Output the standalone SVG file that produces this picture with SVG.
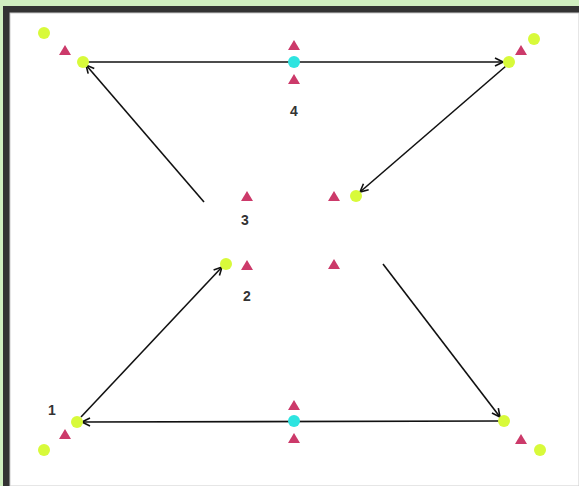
<svg xmlns="http://www.w3.org/2000/svg" width="579" height="486" viewBox="0 0 579 486">
<defs>
<marker id="ah" markerWidth="10" markerHeight="10" refX="9" refY="5" orient="auto" markerUnits="userSpaceOnUse">
<path d="M1,1 L9,5 L1,9" fill="none" stroke="#111" stroke-width="1.6"/>
</marker>
<style>
.g{fill:#d8fa3a}
.c{fill:#2ee4e0}
.t{fill:#cc3a6a}
.lbl{font-family:"Liberation Sans",Arial,sans-serif;font-size:14px;font-weight:bold;fill:#333;text-anchor:middle}
.e{stroke:#111;stroke-width:1.6;fill:none;marker-end:url(#ah)}
</style>
</defs>
<rect x="0" y="0" width="579" height="486" fill="#d0efc0"/>
<rect x="3" y="6" width="576" height="480" fill="#333"/>
<rect x="10" y="13" width="569" height="473" fill="#fff" stroke="#ccc" stroke-width="1"/>
<g id="connectors">
<line class="e" x1="88" y1="62" x2="503" y2="62"/>
<line class="e" x1="204" y1="202" x2="86" y2="65"/>
<line class="e" x1="506" y1="66" x2="360" y2="192"/>
<line class="e" x1="81" y1="417" x2="222" y2="267"/>
<line class="e" x1="383" y1="264" x2="500" y2="417"/>
<line class="e" x1="499" y1="421" x2="82" y2="422"/>
</g>
<g id="n-tl"><circle class="g" cx="44" cy="33" r="6"/><path class="t" d="M65,45 L71,55 L59,55 Z"/><circle class="g" cx="83" cy="62" r="6"/></g>
<g id="n-tm"><path class="t" d="M294,40 L300,50 L288,50 Z"/><circle class="c" cx="294" cy="62" r="6"/><path class="t" d="M294,74 L300,84 L288,84 Z"/><text class="lbl" x="294" y="116">4</text></g>
<g id="n-tr"><circle class="g" cx="509" cy="62" r="6"/><path class="t" d="M521,45 L527,55 L515,55 Z"/><circle class="g" cx="534" cy="39" r="6"/></g>
<g id="n-3"><path class="t" d="M247,191 L253,201 L241,201 Z"/><path class="t" d="M334,191 L340,201 L328,201 Z"/><circle class="g" cx="356" cy="196" r="6"/><text class="lbl" x="245" y="225">3</text></g>
<g id="n-2"><circle class="g" cx="226" cy="264" r="6"/><path class="t" d="M247,260 L253,270 L241,270 Z"/><path class="t" d="M334,259 L340,269 L328,269 Z"/><text class="lbl" x="247" y="301">2</text></g>
<g id="n-bl"><text class="lbl" x="52" y="415">1</text><circle class="g" cx="77" cy="422" r="6"/><path class="t" d="M65,429 L71,439 L59,439 Z"/><circle class="g" cx="44" cy="450" r="6"/></g>
<g id="n-bm"><path class="t" d="M294,400 L300,410 L288,410 Z"/><circle class="c" cx="294" cy="421" r="6"/><path class="t" d="M294,433 L300,443 L288,443 Z"/></g>
<g id="n-br"><circle class="g" cx="504" cy="421" r="6"/><path class="t" d="M521,434 L527,444 L515,444 Z"/><circle class="g" cx="540" cy="450" r="6"/></g>
</svg>
